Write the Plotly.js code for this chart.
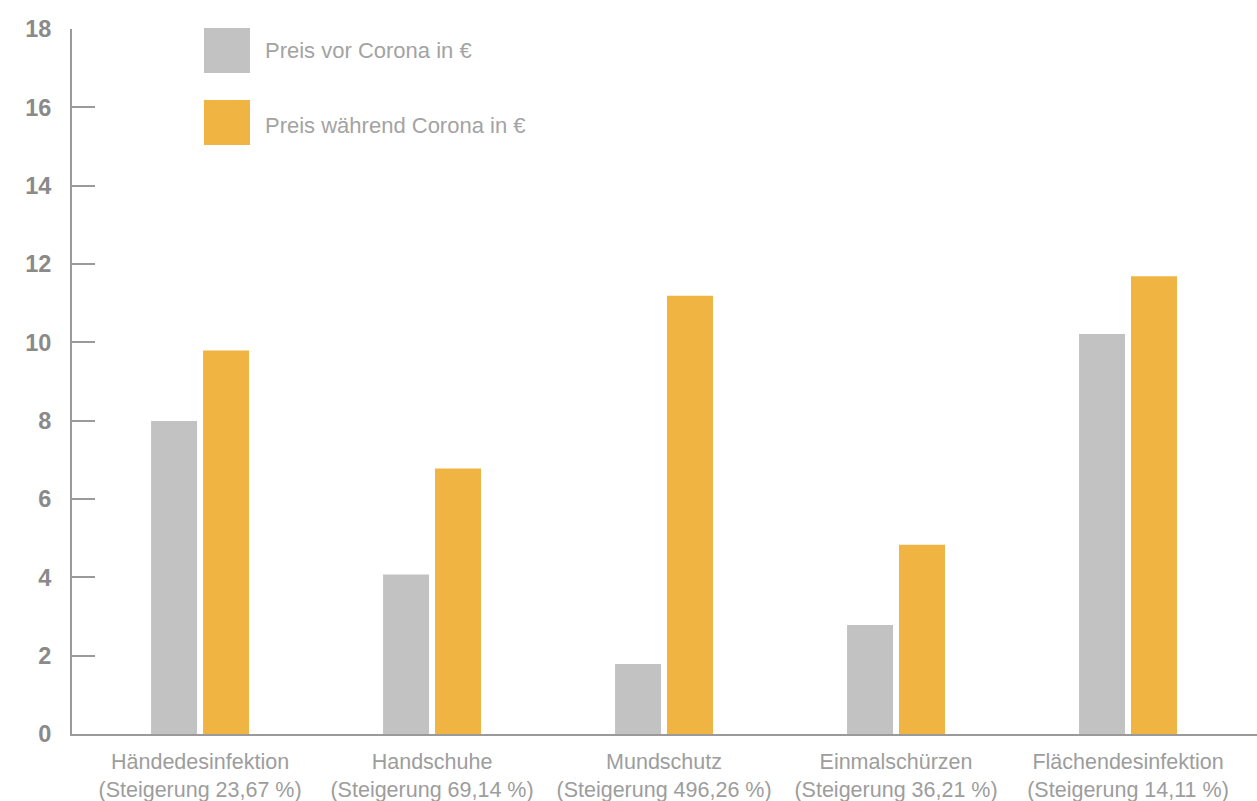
<!DOCTYPE html>
<html>
<head>
<meta charset="utf-8">
<script src="https://cdn.plot.ly/plotly-3.0.1.min.js"></script>
<style>html,body{margin:0;padding:0;background:#fff;}</style>
</head>
<body>
<div id="chart" style="width:1257px;height:801px;"></div>
<script>
const categories = [
  "Händedesinfektion<br>(Steigerung 23,67 %)",
  "Handschuhe<br>(Steigerung 69,14 %)",
  "Mundschutz<br>(Steigerung 496,26 %)",
  "Einmalschürzen<br>(Steigerung 36,21 %)",
  "Flächendesinfektion<br>(Steigerung 14,11 %)"
];
const seriesNames = ["Preis vor Corona in €", "Preis während Corona in €"];
const vorCorona = [7.99, 4.07, 1.79, 2.78, 10.21];
const waehrendCorona = [9.79, 6.78, 11.19, 4.83, 11.69];
const colors = ["#c2c2c2", "#f0b443"];
const yTicks = [0, 2, 4, 6, 8, 10, 12, 14, 16, 18];

const traces = [vorCorona, waehrendCorona].map((vals, i) => ({
  type: "bar",
  name: seriesNames[i],
  x: categories,
  y: vals,
  marker: {color: colors[i]},
  hoverinfo: "y"
}));

const legendY = [[0.9376, 1.0014], [0.8355, 0.8993]];
const legendTextY = [0.9688, 0.8638];
const shapes = seriesNames.map((n, i) => ({
  type: "rect", xref: "paper", yref: "paper",
  x0: 0.1114, x1: 0.1502, y0: legendY[i][0], y1: legendY[i][1],
  fillcolor: colors[i], line: {width: 0}
}));
const annotations = seriesNames.map((n, i) => ({
  xref: "paper", yref: "paper", x: 0.1612, y: legendTextY[i],
  xanchor: "left", yanchor: "middle", showarrow: false, text: n,
  font: {family: "Liberation Sans, Arial, sans-serif", size: 22, color: "#a3a3a3"}
}));

const layout = {
  width: 1257, height: 801,
  margin: {l: 72, r: 0, t: 29, b: 67, pad: 0},
  paper_bgcolor: "#ffffff", plot_bgcolor: "#ffffff",
  barmode: "group", bargap: 0.552, bargroupgap: 0.115,
  showlegend: false,
  xaxis: {
    range: [-0.552, 4.556],
    showgrid: false, zeroline: false,
    showline: true, linecolor: "#9a9a9a", linewidth: 2,
    ticks: "", ticklabelstandoff: 7,
    tickfont: {family: "Liberation Sans, Arial, sans-serif", size: 21.5, color: "#9d9d9d"}
  },
  yaxis: {
    range: [0, 18], tickvals: yTicks, ticktext: yTicks.map(String),
    showgrid: false, zeroline: false,
    showline: true, linecolor: "#9a9a9a", linewidth: 2,
    ticks: "inside", ticklen: 23, tickwidth: 2, tickcolor: "#9a9a9a",
    ticklabelstandoff: 14,
    tickfont: {family: "Liberation Sans, Arial, sans-serif", size: 23.5, color: "#8a8a8a", weight: "bold"}
  },
  shapes: shapes,
  annotations: annotations
};

Plotly.newPlot("chart", traces, layout, {displayModeBar: false, responsive: false});
</script>
</body>
</html>
